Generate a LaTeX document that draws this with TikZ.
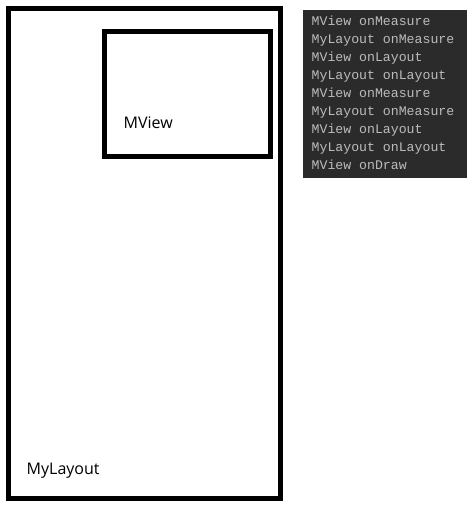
\documentclass[tikz,border=0pt]{standalone}
\usepackage{fontspec}
\setmainfont{Open Sans}
\newfontfamily\logfont{Liberation Mono}
\definecolor{panelbg}{HTML}{2B2B2B}
\definecolor{logtext}{HTML}{BBBBBB}
\begin{document}
\begin{tikzpicture}[x=1pt,y=-1pt,
  frame/.style={draw=black,line width=5pt},
  label/.style={anchor=base west,inner sep=0pt,font=\fontsize{16}{19}\selectfont},
  logline/.style={anchor=base west,inner sep=0pt,text=logtext,font=\logfont\fontsize{13.2}{16}\selectfont}]
\useasboundingbox (0,0) rectangle (475,509);
\fill[white] (0,0) rectangle (475,509);
% outer layout
\draw[frame] (8.5,8.5) rectangle (280.5,498.5);
% inner view
\draw[frame] (104.5,31.5) rectangle (270.5,156.5);
\node[label] (mview) at (123.5,128.3) {MView};
\node[label] (mylayout) at (26.5,474.3) {MyLayout};
% log panel
\fill[panelbg] (303,9.5) rectangle (466.7,178);
\foreach \t [count=\i from 0] in {MView onMeasure,MyLayout onMeasure,MView onLayout,MyLayout onLayout,MView onMeasure,MyLayout onMeasure,MView onLayout,MyLayout onLayout,MView onDraw}
  \node[logline] (log\i) at (311.5,25+18.1*\i) {\t};
\end{tikzpicture}
\end{document}
